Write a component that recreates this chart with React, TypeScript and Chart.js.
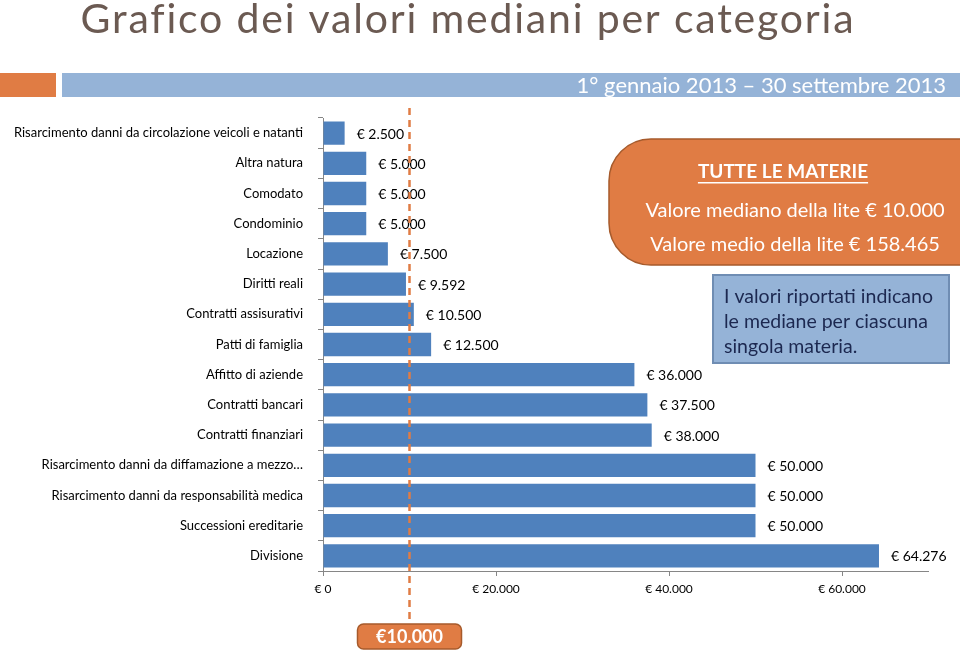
import React, { useEffect, useRef } from "react";
import { Chart, registerables } from "chart.js";

Chart.register(...registerables);

const TITLE = "Grafico dei valori mediani per categoria";
const PERIOD = "1° gennaio 2013 – 30 settembre 2013";

const CATEGORIES = [
  "Risarcimento danni da circolazione veicoli e natanti",
  "Altra natura",
  "Comodato",
  "Condominio",
  "Locazione",
  "Diritti reali",
  "Contratti assisurativi",
  "Patti di famiglia",
  "Affitto di aziende",
  "Contratti bancari",
  "Contratti finanziari",
  "Risarcimento danni da diffamazione a mezzo…",
  "Risarcimento danni da responsabilità medica",
  "Successioni ereditarie",
  "Divisione",
];

const MEDIAN_VALUES = [
  2500, 5000, 5000, 5000, 7500, 9592, 10500, 12500, 36000, 37500, 38000, 50000,
  50000, 50000, 64276,
];

const X_TICKS = [0, 20000, 40000, 60000];
const X_MAX = 70000;

const OVERALL_MEDIAN = 10000;
const OVERALL_MEAN = 158465;
const SUMMARY_TITLE = "TUTTE LE MATERIE";
const SUMMARY_MEDIAN_TEXT = "Valore mediano della lite";
const SUMMARY_MEAN_TEXT = "Valore medio della lite";
const NOTE_LINES = [
  "I valori riportati indicano",
  "le mediane per ciascuna",
  "singola materia.",
];

const fmt = (v: number) => String(v).replace(/\B(?=(\d{3})+(?!\d))/g, ".");
const euro = (v: number) => "€ " + fmt(v);

const ORANGE = "#e07c44";
const ORANGE_DARK = "#a65a2b";
const LIGHT_BLUE = "#95b3d7";
const BAR_BLUE = "#4f81bd";
const AXIS_GRAY = "#868686";
const FONT = "Lato";

const decorPlugin = {
  id: "decor",
  beforeDraw(chart: any) {
    const ctx = chart.ctx as CanvasRenderingContext2D;
    ctx.save();
    ctx.fillStyle = "#ffffff";
    ctx.fillRect(0, 0, chart.width, chart.height);

    // title
    ctx.fillStyle = "#6b5a52";
    ctx.font = `41px ${FONT}`;
    (ctx as any).letterSpacing = "1.8px";
    ctx.textAlign = "center";
    ctx.textBaseline = "alphabetic";
    ctx.fillText(TITLE, 468, 33);
    (ctx as any).letterSpacing = "0px";

    // band
    ctx.fillStyle = ORANGE;
    ctx.fillRect(0, 73, 56, 24);
    ctx.fillStyle = LIGHT_BLUE;
    ctx.fillRect(62, 73, chart.width - 62, 24);
    ctx.fillStyle = "#ffffff";
    ctx.font = `22px ${FONT}`;
    ctx.textAlign = "right";
    ctx.textBaseline = "middle";
    ctx.fillText(PERIOD, 946, 86);
    ctx.restore();
  },
  afterDatasetsDraw(chart: any) {
    const ctx = chart.ctx as CanvasRenderingContext2D;
    const meta = chart.getDatasetMeta(0);
    ctx.save();
    ctx.fillStyle = "#000000";
    ctx.font = `14px ${FONT}`;
    ctx.textAlign = "left";
    ctx.textBaseline = "middle";
    meta.data.forEach((bar: any, i: number) => {
      ctx.fillText(euro(MEDIAN_VALUES[i]), bar.x + 12, bar.y + 1);
    });
    ctx.restore();
  },
  afterDraw(chart: any) {
    const ctx = chart.ctx as CanvasRenderingContext2D;
    const xScale = chart.scales.x;
    const area = chart.chartArea;
    ctx.save();

    // median line
    const mx = xScale.getPixelForValue(OVERALL_MEDIAN);
    ctx.strokeStyle = ORANGE;
    ctx.lineWidth = 2.5;
    ctx.setLineDash([7, 5]);
    ctx.beginPath();
    ctx.moveTo(mx, area.top - 10);
    ctx.lineTo(mx, 624);
    ctx.stroke();
    ctx.setLineDash([]);

    // median tag
    const tw = 104;
    const th = 25;
    ctx.beginPath();
    (ctx as any).roundRect(mx - tw / 2, 624, tw, th, 6);
    ctx.fillStyle = ORANGE;
    ctx.fill();
    ctx.lineWidth = 1.5;
    ctx.strokeStyle = ORANGE_DARK;
    ctx.stroke();
    ctx.fillStyle = "#ffffff";
    ctx.font = `bold 18px ${FONT}`;
    ctx.textAlign = "center";
    ctx.textBaseline = "middle";
    ctx.fillText("€" + fmt(OVERALL_MEDIAN), mx, 637);

    // summary callout
    const L = 609;
    const T = 139;
    const B = 265;
    const R = 42;
    const Rt = chart.width + 4;
    ctx.beginPath();
    ctx.moveTo(Rt, T);
    ctx.lineTo(L + R, T);
    ctx.arcTo(L, T, L, T + R, R);
    ctx.lineTo(L, B - R);
    ctx.arcTo(L, B, L + R, B, R);
    ctx.lineTo(Rt, B);
    ctx.closePath();
    ctx.fillStyle = ORANGE;
    ctx.fill();
    ctx.lineWidth = 1.5;
    ctx.strokeStyle = ORANGE_DARK;
    ctx.stroke();

    ctx.fillStyle = "#ffffff";
    ctx.textAlign = "center";
    ctx.textBaseline = "middle";
    ctx.font = `bold 19px ${FONT}`;
    ctx.fillText(SUMMARY_TITLE, 783, 172);
    const w = ctx.measureText(SUMMARY_TITLE).width;
    ctx.fillRect(783 - w / 2, 182, w, 1.5);
    ctx.font = `20px ${FONT}`;
    ctx.fillText(`${SUMMARY_MEDIAN_TEXT} ${euro(OVERALL_MEDIAN)}`, 795, 211);
    ctx.fillText(`${SUMMARY_MEAN_TEXT} ${euro(OVERALL_MEAN)}`, 795, 245);

    // note box
    ctx.fillStyle = LIGHT_BLUE;
    ctx.fillRect(713, 275, 236, 88);
    ctx.lineWidth = 2;
    ctx.strokeStyle = "#6f8db3";
    ctx.strokeRect(713, 275, 236, 88);
    ctx.fillStyle = "#1c2850";
    ctx.font = `19.5px ${FONT}`;
    ctx.textAlign = "left";
    ctx.textBaseline = "middle";
    NOTE_LINES.forEach((line, i) => {
      ctx.fillText(line, 724, 297 + i * 25);
    });

    ctx.restore();
  },
};

export default function App() {
  const canvasRef = useRef<HTMLCanvasElement | null>(null);

  useEffect(() => {
    document.body.style.margin = "0";
    const canvas = canvasRef.current;
    if (!canvas) return;
    Chart.defaults.font.family = FONT;

    const chart = new Chart(canvas, {
      type: "bar",
      data: {
        labels: CATEGORIES,
        datasets: [
          {
            data: MEDIAN_VALUES,
            backgroundColor: BAR_BLUE,
            borderColor: "#4a7ab3",
            borderWidth: 0,
            barPercentage: 0.77,
            categoryPercentage: 1,
          },
        ],
      },
      options: {
        indexAxis: "y",
        responsive: false,
        maintainAspectRatio: false,
        animation: false,
        devicePixelRatio: 1,
        layout: { padding: { top: 118, right: 31.5, left: 0, bottom: 0 } },
        plugins: {
          legend: { display: false },
          tooltip: { enabled: false },
          title: { display: false },
        },
        scales: {
          x: {
            type: "linear",
            position: "bottom",
            min: 0,
            max: X_MAX,
            afterBuildTicks: (scale: any) => {
              scale.ticks = X_TICKS.map((v) => ({ value: v }));
            },
            afterFit: (scale: any) => {
              scale.height = 80;
            },
            ticks: {
              callback: (v: any) => euro(Number(v)),
              font: { family: FONT, size: 12 },
              color: "#000000",
              padding: 6,
              maxRotation: 0,
              autoSkip: false,
            },
            grid: {
              display: true,
              drawOnChartArea: false,
              drawTicks: true,
              tickLength: 5,
              color: AXIS_GRAY,
            },
            border: { display: true, color: AXIS_GRAY, width: 1 },
          },
          y: {
            type: "category",
            afterFit: (scale: any) => {
              scale.width = 323;
            },
            ticks: {
              font: { family: FONT, size: 13 },
              color: "#000000",
              padding: 15,
              autoSkip: false,
            },
            grid: {
              display: true,
              drawOnChartArea: false,
              drawTicks: true,
              tickLength: 5,
              color: AXIS_GRAY,
              offset: true,
            },
            border: { display: true, color: AXIS_GRAY, width: 1 },
          },
        },
      },
      plugins: [decorPlugin],
    });

    return () => chart.destroy();
  }, []);

  return (
    <div style={{ width: 960, height: 651 }}>
      <canvas
        ref={canvasRef}
        width={960}
        height={651}
        style={{ display: "block", width: 960, height: 651 }}
      />
    </div>
  );
}
